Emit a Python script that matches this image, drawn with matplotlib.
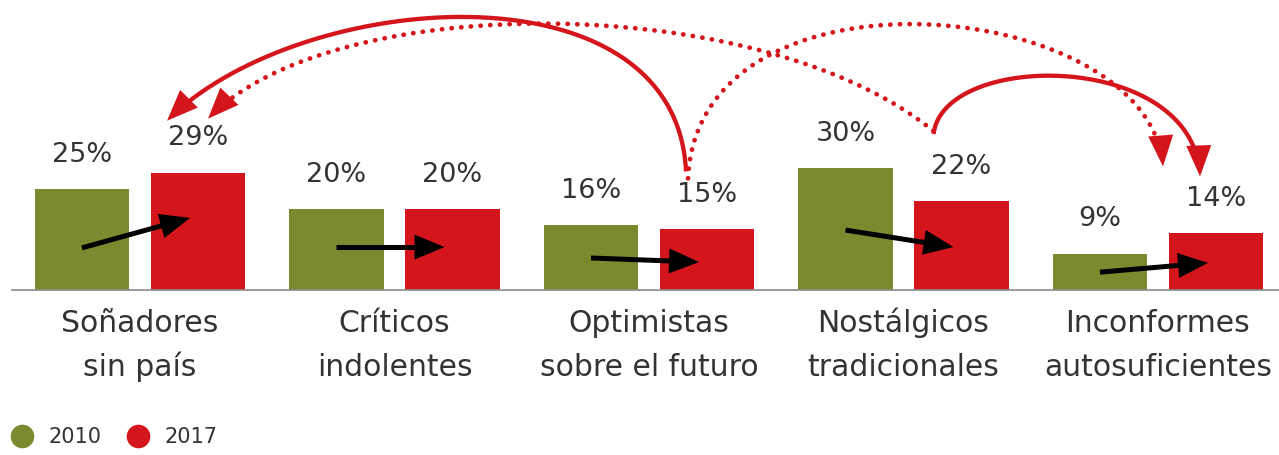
import numpy as np
import matplotlib
matplotlib.use("Agg")
import matplotlib.pyplot as plt
from matplotlib.patches import Polygon
from matplotlib.lines import Line2D

# ---------------- data ----------------
categories = ["Soñadores\nsin país", "Críticos\nindolentes", "Optimistas\nsobre el futuro",
              "Nostálgicos\ntradicionales", "Inconformes\nautosuficientes"]
values_2010 = [25, 20, 16, 30, 9]
values_2017 = [29, 20, 15, 22, 14]
series_labels = ["2010", "2017"]
# black trend arrows (height in % at start over 2010 bar and at end over 2017 bar)
arrow_from = [10.4, 10.6, 7.9, 14.8, 4.4]
arrow_to = [17.8, 10.6, 6.9, 10.6, 6.7]
# red migration arrows: (source group, target group, dotted)
flows = [(2, 0, False), (3, 0, True), (2, 4, True), (3, 4, False)]

GREEN = "#7A8A2E"
RED = "#D4161C"
TEXT = "#333333"

W, H = 1279, 455
fig = plt.figure(figsize=(W / 100, H / 100), dpi=100)
ax = fig.add_axes([0, 0, 1, 1])

# pixel mapping of the axes
PX_X0, PX_XU = 140.0, 254.5      # pixel of group 0, pixels per group
PX_Y0, PX_YU = 290.0, 4.05       # baseline pixel, pixels per percent
ax.set_xlim(-PX_X0 / PX_XU, (W - PX_X0) / PX_XU)
ax.set_ylim((PX_Y0 - H) / PX_YU, PX_Y0 / PX_YU)
ax.axis("off")

def to_px(xd, yd):
    return PX_X0 + xd * PX_XU, PX_Y0 - yd * PX_YU

def to_data(xp, yp):
    return (np.asarray(xp) - PX_X0) / PX_XU, (PX_Y0 - np.asarray(yp)) / PX_YU

x = np.arange(len(categories))
off = 0.228
bw = 0.373
ax.bar(x - off, values_2010, bw, color=GREEN, zorder=2)
ax.bar(x + off, values_2017, bw, color=RED, zorder=2)

# baseline
bx0, _ = to_data(12, 0)
ax.plot([bx0, ax.get_xlim()[1]], [0, 0], color="#8a8a8a", lw=1.2, zorder=3)

# value labels
for i in range(len(x)):
    ax.text(x[i] - off, values_2010[i] + 6.7, f"{values_2010[i]}%", ha="center", va="baseline",
            fontsize=19.5, color=TEXT, family="DejaVu Sans")
    ax.text(x[i] + off, values_2017[i] + 6.7, f"{values_2017[i]}%", ha="center", va="baseline",
            fontsize=19.5, color=TEXT, family="DejaVu Sans")

# category labels
for i, cat in enumerate(categories):
    l1, l2 = cat.split("\n")
    _, y1 = to_data(0, 332)
    _, y2 = to_data(0, 376)
    ax.text(x[i], y1, l1, ha="center", va="baseline", fontsize=21.5, color=TEXT, family="DejaVu Sans")
    ax.text(x[i], y2, l2, ha="center", va="baseline", fontsize=21.5, color=TEXT, family="DejaVu Sans")

def head(tip, direction, length, width, color, z=5):
    d = np.asarray(direction, float)
    d = d / np.hypot(*d)
    n = np.array([-d[1], d[0]])
    tip = np.asarray(tip, float)
    base = tip - d * length
    pts = np.array([tip, base + n * width / 2, base - n * width / 2])
    xd, yd = to_data(pts[:, 0], pts[:, 1])
    ax.add_patch(Polygon(np.column_stack([xd, yd]), closed=True, color=color, lw=0, zorder=z))
    return base

# black arrows
for i in range(len(x)):
    p0 = np.array(to_px(x[i] - off, arrow_from[i]))
    p1 = np.array(to_px(x[i] + off, arrow_to[i])) + np.array([-8, 0])
    base = head(p1, p1 - p0, 30, 25, "black", z=6)
    xd, yd = to_data([p0[0], base[0] + (p1 - p0)[0] * 0.02], [p0[1], base[1] + (p1 - p0)[1] * 0.02])
    ax.plot(xd, yd, color="black", lw=3.6, solid_capstyle="butt", zorder=6)

# red curved arrows
def label_px(i):
    return np.array(to_px(x[i] + off, values_2017[i] + 9.1))

start_off = {(2, 0): (-21, -21), (3, 0): (-28, -33), (2, 4): (-19, -14), (3, 4): (-28, -30)}
end_off = {(2, 0): (-31, -15), (3, 0): (10, -17), (2, 4): (-53, -30), (3, 4): (-16, -20)}
ctrl1 = {(2, 0): (-10, -212), (3, 0): (-175, -142), (2, 4): (10, -225), (3, 4): (10, -84)}
ctrl2 = {(2, 0): (132, -132), (3, 0): (122, -128), (2, 4): (-13, -170), (3, 4): (-5, -126)}

t = np.linspace(0, 1, 400)[:, None]
for src, dst, dotted in flows:
    key = (src, dst)
    P0 = label_px(src) + np.array(start_off[key])
    P3 = label_px(dst) + np.array(end_off[key])
    P1 = P0 + np.array(ctrl1[key])
    P2 = P3 + np.array(ctrl2[key])
    B = (1 - t) ** 3 * P0 + 3 * (1 - t) ** 2 * t * P1 + 3 * (1 - t) * t ** 2 * P2 + t ** 3 * P3
    head(P3, P3 - P2, 31, 25, RED)
    # stop the curve at the head base
    dist = np.hypot(B[:, 0] - P3[0], B[:, 1] - P3[1])
    keep = dist > (26 if dotted else 20)
    Bk = B[keep]
    xd, yd = to_data(Bk[:, 0], Bk[:, 1])
    if dotted:
        ax.plot(xd, yd, color=RED, lw=3.4, linestyle=(0, (0.05, 2.0)), dash_capstyle="round", zorder=4)
    else:
        ax.plot(xd, yd, color=RED, lw=3.1, solid_capstyle="butt", zorder=4)

# legend
handles = [Line2D([], [], marker="o", ls="", markersize=17, color=GREEN, markeredgewidth=0),
           Line2D([], [], marker="o", ls="", markersize=17, color=RED, markeredgewidth=0)]
fig.legend(handles, series_labels, loc="lower left", bbox_to_anchor=(0.0078, 0.004), ncol=2,
           frameon=False, handlelength=0.6, handletextpad=0.95, columnspacing=1.45,
           borderaxespad=0.0, borderpad=0.3,
           prop={"family": "DejaVu Sans", "size": 15}, labelcolor=TEXT)

fig.savefig("out.png", dpi=100, facecolor="white")
